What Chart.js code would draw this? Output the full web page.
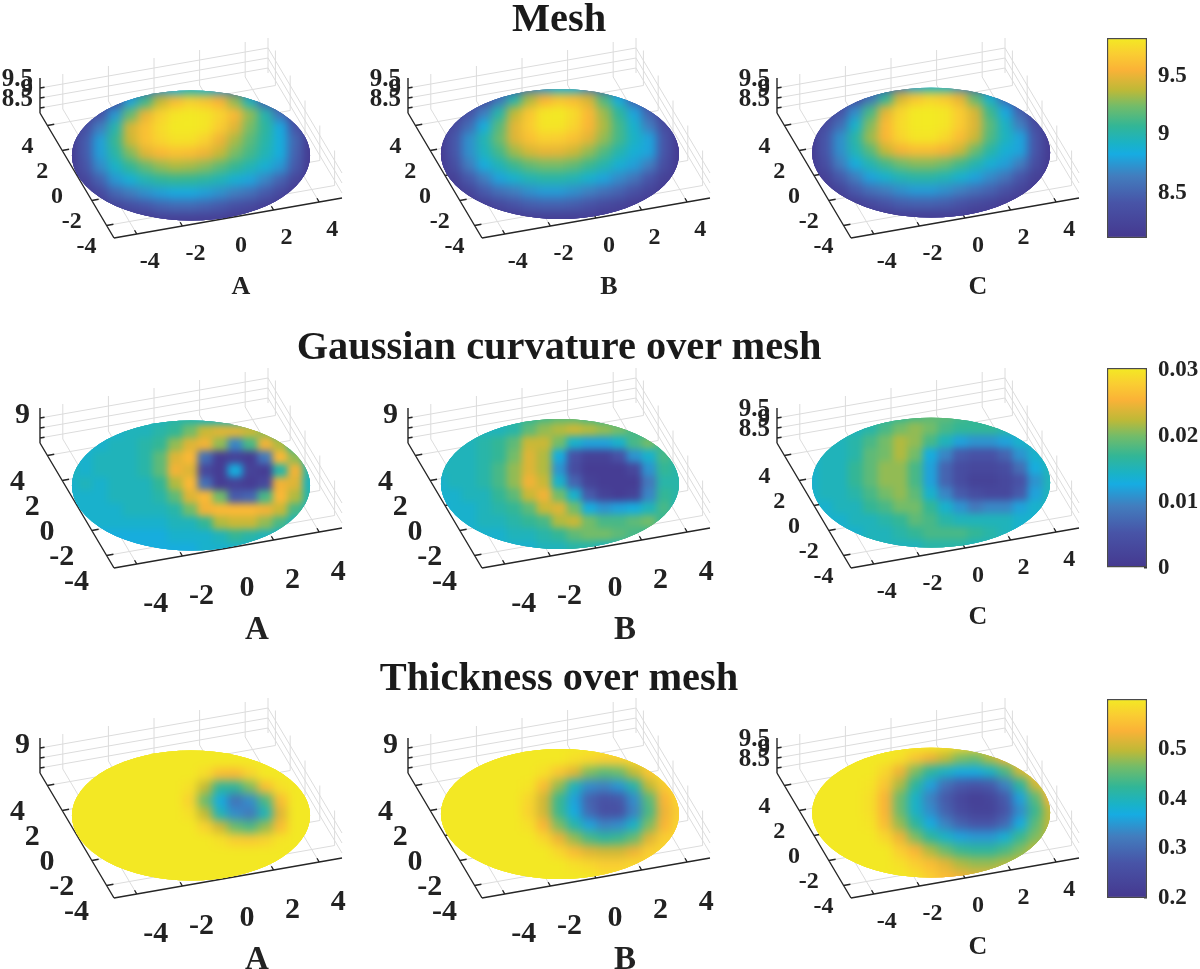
<!DOCTYPE html>
<html lang="en">
<head>
<meta charset="UTF-8">
<title>Mesh, Gaussian curvature and thickness</title>
<script src="https://cdn.jsdelivr.net/npm/chart.js"></script>
<style>
    html, body { margin: 0; background: #fff; width: 1200px; height: 969px; overflow: hidden; }
    canvas { position: absolute; }
    .title { position: absolute; left: 0; width: 1118px; text-align: center; font: bold 40.4px "Liberation Serif", serif; color: #1a1a1a; z-index: 5; }
</style>
</head>
<body>
<div class="title" style="top:-6px">Mesh</div>
<div class="title" style="top:322px">Gaussian curvature over mesh</div>
<div class="title" style="top:653px">Thickness over mesh</div>
<script>
// surface lattice, in disk units along the view plane
const latticeU = [-5, -4.375, -3.75, -3.125, -2.5, -1.875, -1.25, -0.625, 0, 0.625, 1.25, 1.875, 2.5, 3.125, 3.75, 4.375, 5];
const latticeV = [5, 4, 3, 2, 1, 0, -1, -2, -3, -4, -5];

// Mesh height, rows top to bottom as seen in the picture
const meshA = [
    [8.2,8.2,8.2,8.2,8.3,8.5,8.7,8.85,8.95,8.9,8.75,8.5,8.3,8.2,8.2,8.2,8.2],
    [8.2,8.2,8.2,8.3,8.8,9.1,9.4,9.6,9.7,9.65,9.55,9.3,8.95,8.5,8.2,8.2,8.2],
    [8.2,8.2,8.4,8.75,9.2,9.5,9.7,9.8,9.82,9.8,9.72,9.58,9.3,9.0,8.6,8.2,8.2],
    [8.2,8.35,8.65,9.0,9.45,9.62,9.75,9.82,9.82,9.8,9.68,9.48,9.25,9.05,8.82,8.42,8.2],
    [8.15,8.45,8.78,9.08,9.42,9.62,9.72,9.78,9.78,9.7,9.52,9.34,9.18,9.02,8.85,8.52,8.15],
    [8.15,8.45,8.78,9.02,9.27,9.47,9.57,9.62,9.6,9.52,9.4,9.25,9.12,8.98,8.85,8.5,8.15],
    [8.15,8.4,8.7,8.92,9.07,9.2,9.3,9.35,9.33,9.28,9.18,9.08,8.98,8.88,8.75,8.45,8.15],
    [8.15,8.28,8.5,8.75,8.87,8.98,9.05,9.08,9.07,9.03,8.97,8.88,8.8,8.68,8.5,8.27,8.15],
    [8.15,8.15,8.3,8.52,8.64,8.72,8.78,8.82,8.82,8.78,8.72,8.65,8.57,8.45,8.3,8.15,8.15],
    [8.15,8.15,8.15,8.25,8.35,8.42,8.5,8.54,8.54,8.5,8.44,8.36,8.3,8.2,8.15,8.15,8.15],
    [8.15,8.15,8.15,8.15,8.15,8.15,8.2,8.2,8.2,8.2,8.2,8.15,8.15,8.15,8.15,8.15,8.15]
];
const meshB = [
    [8.2,8.2,8.2,8.2,8.2,8.35,8.6,8.75,8.85,8.85,8.65,8.45,8.3,8.2,8.2,8.2,8.2],
    [8.2,8.2,8.2,8.3,8.6,9.0,9.35,9.55,9.65,9.6,9.45,9.15,8.85,8.5,8.2,8.2,8.2],
    [8.2,8.2,8.4,8.65,9.0,9.38,9.65,9.8,9.82,9.75,9.58,9.32,9.05,8.8,8.5,8.2,8.2],
    [8.2,8.33,8.55,8.85,9.17,9.48,9.68,9.8,9.8,9.72,9.57,9.35,9.12,8.9,8.65,8.33,8.2],
    [8.15,8.42,8.72,8.98,9.22,9.47,9.62,9.7,9.69,9.62,9.48,9.3,9.12,8.93,8.8,8.42,8.15],
    [8.15,8.42,8.72,8.95,9.12,9.32,9.44,9.5,9.49,9.42,9.3,9.15,9.0,8.88,8.8,8.42,8.15],
    [8.15,8.35,8.65,8.85,8.97,9.1,9.2,9.25,9.25,9.2,9.1,9.0,8.88,8.78,8.65,8.35,8.15],
    [8.15,8.22,8.45,8.65,8.8,8.9,8.98,9.02,9.02,8.98,8.9,8.8,8.7,8.6,8.42,8.22,8.15],
    [8.15,8.15,8.25,8.45,8.57,8.65,8.72,8.77,8.77,8.72,8.66,8.58,8.5,8.38,8.25,8.15,8.15],
    [8.15,8.15,8.15,8.2,8.3,8.4,8.47,8.5,8.5,8.47,8.4,8.32,8.25,8.18,8.15,8.15,8.15],
    [8.15,8.15,8.15,8.15,8.15,8.15,8.2,8.2,8.2,8.2,8.2,8.15,8.15,8.15,8.15,8.15,8.15]
];
const meshC = [
    [8.2,8.2,8.2,8.2,8.2,8.35,8.6,8.8,8.9,8.9,8.7,8.45,8.3,8.2,8.2,8.2,8.2],
    [8.2,8.2,8.2,8.3,8.6,9.05,9.45,9.65,9.72,9.67,9.5,9.2,8.9,8.55,8.2,8.2,8.2],
    [8.2,8.2,8.4,8.7,9.12,9.48,9.72,9.82,9.83,9.8,9.68,9.45,9.1,8.82,8.5,8.2,8.2],
    [8.2,8.33,8.55,8.9,9.27,9.58,9.75,9.82,9.83,9.8,9.68,9.47,9.18,8.93,8.65,8.33,8.2],
    [8.15,8.42,8.72,9.02,9.32,9.57,9.72,9.8,9.8,9.74,9.6,9.42,9.15,8.95,8.8,8.42,8.15],
    [8.15,8.42,8.72,8.98,9.17,9.4,9.54,9.6,9.6,9.54,9.42,9.22,9.02,8.88,8.8,8.42,8.15],
    [8.15,8.35,8.65,8.85,8.99,9.12,9.23,9.28,9.28,9.23,9.12,9.0,8.88,8.78,8.65,8.35,8.15],
    [8.15,8.22,8.45,8.65,8.8,8.9,8.98,9.03,9.03,8.98,8.9,8.8,8.7,8.6,8.42,8.22,8.15],
    [8.15,8.15,8.25,8.45,8.57,8.65,8.72,8.77,8.77,8.72,8.66,8.58,8.5,8.38,8.25,8.15,8.15],
    [8.15,8.15,8.15,8.2,8.3,8.4,8.47,8.5,8.5,8.47,8.4,8.32,8.25,8.18,8.15,8.15,8.15],
    [8.15,8.15,8.15,8.15,8.15,8.15,8.2,8.2,8.2,8.2,8.2,8.15,8.15,8.15,8.15,8.15,8.15]
];

// Gaussian curvature, in units of 0.001
const gaussA = [
    [14,14,14,14,14,15,15,16,16,15,15,14,14,14,14,14,14],
    [14,14,14,14,15,15,16,17,20,23,24,24,23,21,17,15,14],
    [14,14,14,15,15,16,17,21,24,25,21,10,18,25,22,16,14],
    [14,14,15,15,15,16,19,24,26,8,1,2,1,9,26,21,15],
    [15,14,15,15,15,16,19,25,24,3,1,13,2,1,16,25,16],
    [14,15,14,15,15,15,17,22,26,8,1,2,1,3,25,24,15],
    [14,14,14,15,15,15,16,19,24,26,20,6,7,18,26,22,16],
    [14,14,14,14,15,15,15,16,20,25,26,26,26,25,23,18,15],
    [14,14,14,14,14,14,14,15,15,17,22,23,23,21,18,15,14],
    [13,13,13,13,13,13,13,14,14,14,15,17,16,15,14,13,13],
    [13,13,13,13,13,13,13,13,13,14,14,14,14,13,13,13,13]
];
const gaussB = [
    [15,15,15,15,15,16,17,18,19,19,18,17,16,15,15,15,15],
    [15,15,15,15,15,16,19,21,22,23,22,21,20,18,16,15,15],
    [15,15,15,16,17,19,23,23,20,14,12,12,14,18,20,17,15],
    [14,15,15,16,17,20,24,22,13,5,2,2,5,11,14,18,16],
    [15,15,15,16,18,21,24,22,11,4,1,1,1,3,11,17,16],
    [14,15,15,16,18,21,25,23,14,7,2,1,1,1,9,16,16],
    [14,14,15,15,17,19,23,25,20,14,6,2,1,2,10,17,16],
    [13,14,14,15,16,17,19,23,24,20,13,11,12,13,15,18,15],
    [13,14,14,15,15,16,17,18,22,23,20,18,18,19,20,17,15],
    [14,14,14,14,14,15,15,16,17,19,20,20,19,18,17,15,15],
    [14,14,14,14,14,14,14,15,15,16,16,15,15,15,15,15,15]
];
const gaussC = [
    [15,15,15,15,16,16,17,18,19,19,18,17,16,15,15,15,15],
    [15,15,15,15,16,18,20,21,20,18,17,17,17,16,15,15,15],
    [15,15,15,16,18,20,22,21,18,15,12,11,11,12,14,15,15],
    [14,15,15,16,19,20,22,20,13,10,6,5,5,7,11,14,16],
    [14,15,15,17,19,21,21,18,12,7,4,3,3,4,8,13,15],
    [14,15,15,17,19,21,21,18,12,7,4,2,2,3,5,11,15],
    [14,15,15,16,18,20,21,19,14,10,6,4,3,3,6,12,15],
    [14,14,15,15,17,18,20,20,17,14,11,9,10,10,12,14,15],
    [14,14,14,15,15,16,17,19,18,16,15,15,15,15,14,14,14],
    [14,14,14,14,15,15,16,17,18,18,18,17,16,15,14,14,14],
    [15,15,15,15,15,15,15,15,16,16,16,15,15,15,15,15,15]
];

// Thickness
const thickA = [
    [.6,.6,.6,.6,.6,.6,.6,.6,.6,.6,.6,.6,.6,.6,.6,.6,.6],
    [.6,.6,.6,.6,.6,.6,.6,.6,.6,.6,.6,.6,.6,.6,.6,.6,.6],
    [.6,.6,.6,.6,.6,.6,.6,.6,.6,.585,.55,.545,.575,.6,.6,.6,.6],
    [.6,.6,.6,.6,.6,.6,.6,.6,.59,.5,.42,.42,.47,.55,.59,.6,.6],
    [.6,.6,.6,.6,.6,.6,.6,.6,.575,.46,.37,.31,.34,.44,.55,.6,.6],
    [.6,.6,.6,.6,.6,.6,.6,.6,.59,.5,.4,.34,.32,.4,.52,.6,.6],
    [.6,.6,.6,.6,.6,.6,.6,.6,.6,.575,.51,.46,.44,.48,.55,.6,.6],
    [.6,.6,.6,.6,.6,.6,.6,.6,.6,.6,.59,.57,.565,.575,.595,.6,.6],
    [.6,.6,.6,.6,.6,.6,.6,.6,.6,.6,.6,.6,.6,.6,.6,.6,.6],
    [.6,.6,.6,.6,.6,.6,.6,.6,.6,.6,.6,.6,.6,.6,.6,.6,.6],
    [.6,.6,.6,.6,.6,.6,.6,.6,.6,.6,.6,.6,.6,.6,.6,.6,.6]
];
const thickB = [
    [.6,.6,.6,.6,.6,.6,.6,.6,.6,.6,.6,.6,.6,.6,.6,.6,.6],
    [.6,.6,.6,.6,.6,.6,.6,.6,.6,.59,.58,.57,.57,.58,.59,.6,.6],
    [.6,.6,.6,.6,.6,.6,.6,.59,.56,.52,.47,.45,.46,.5,.56,.59,.6],
    [.6,.6,.6,.6,.6,.6,.595,.55,.48,.40,.34,.33,.35,.41,.5,.565,.59],
    [.6,.6,.6,.6,.6,.6,.58,.51,.43,.36,.29,.265,.275,.34,.45,.54,.58],
    [.6,.6,.6,.6,.6,.6,.575,.51,.43,.37,.3,.26,.26,.33,.44,.53,.57],
    [.6,.6,.6,.6,.6,.6,.59,.54,.47,.41,.36,.33,.34,.39,.47,.54,.58],
    [.6,.6,.6,.6,.6,.6,.6,.58,.53,.48,.44,.42,.43,.46,.52,.57,.58],
    [.6,.6,.6,.6,.6,.6,.6,.6,.58,.55,.52,.51,.51,.53,.57,.58,.58],
    [.6,.6,.6,.6,.6,.6,.6,.6,.6,.59,.58,.57,.57,.58,.58,.58,.58],
    [.6,.6,.6,.6,.6,.6,.6,.6,.6,.6,.6,.59,.59,.59,.59,.59,.59]
];
const thickC = [
    [.6,.6,.6,.6,.6,.6,.6,.6,.6,.59,.58,.57,.57,.57,.58,.6,.6],
    [.6,.6,.6,.6,.6,.6,.59,.56,.53,.50,.47,.46,.49,.53,.57,.58,.58],
    [.6,.6,.6,.6,.6,.58,.53,.47,.42,.39,.37,.37,.39,.44,.51,.56,.58],
    [.6,.6,.6,.6,.595,.56,.49,.42,.36,.31,.28,.27,.28,.33,.42,.51,.57],
    [.6,.6,.6,.6,.59,.54,.46,.39,.33,.28,.24,.22,.235,.28,.36,.45,.54],
    [.6,.6,.6,.6,.59,.54,.46,.39,.34,.29,.25,.23,.23,.27,.34,.43,.5],
    [.6,.6,.6,.6,.595,.55,.48,.42,.37,.33,.29,.27,.27,.30,.37,.45,.5],
    [.6,.6,.6,.6,.6,.58,.53,.47,.42,.39,.36,.35,.35,.38,.43,.47,.5],
    [.6,.6,.6,.6,.6,.6,.57,.54,.49,.46,.43,.42,.42,.44,.47,.5,.5],
    [.6,.6,.6,.6,.6,.6,.59,.57,.55,.52,.49,.48,.48,.49,.5,.5,.5],
    [.6,.6,.6,.6,.6,.6,.6,.59,.57,.55,.53,.52,.52,.52,.52,.52,.52]
];

// axis ticks
const axisTicks = [-4, -2, 0, 2, 4];
const zTicks = [8.5, 9, 9.5];
const zLabelsFull = ['8.5', '9', '9.5'];
const zLabelsOne = ['', '9', ''];
const panelLetters = ['A', 'B', 'C'];

// colour bars
const meshBarRange = [8.115, 9.825];
const meshBarTicks = [8.5, 9, 9.5];
const gaussBarRange = [0, 0.0303];
const gaussBarTicks = [0, 0.01, 0.02, 0.03];
const thickBarRange = [0.2, 0.602];
const thickBarTicks = [0.2, 0.3, 0.4, 0.5];

// colormap as printed in the figure
const cmapStops = [
    [0, 69, 56, 143], [.175, 72, 84, 167], [.31, 66, 125, 190], [.42, 22, 172, 226], [.47, 25, 178, 200],
    [.56, 50, 182, 150], [.66, 115, 188, 105], [.74, 190, 185, 55], [.84, 250, 178, 55], [.92, 250, 205, 50], [1, 243, 234, 35]
];
function cmap(t) {
    t = Math.max(0, Math.min(1, t));
    for (let i = 1; i < cmapStops.length; i++) {
        if (t <= cmapStops[i][0]) {
            const a = cmapStops[i - 1], b = cmapStops[i], f = (t - a[0]) / (b[0] - a[0]);
            return `rgb(${[1, 2, 3].map(k => Math.round(a[k] + (b[k] - a[k]) * f)).join(',')})`;
        }
    }
    return 'rgb(243,234,35)';
}

// view: one disk unit is this many pixels on the canvas
const unitU = 24, unitV = 13.1;
const panelW = 360, panelH = 290, centerX = 191, centerY = 125.5;
const diskR = 4.96;
const panelLeft = [0, 368, 737];
const panelTop = [30, 360, 690];
const zFloor = 8.25, zTop = 10;

// orthographic projection of the axes box onto the view plane
function project(x, y, z) {
    return {
        x: (22.8 * x - 7.4 * y) / unitU,
        y: (4 * x + 12.5 * y) / unitV + (z - zFloor) * 20 / unitV
    };
}
const gap = { x: NaN, y: NaN };
function seg(list, a, b) { list.push(project(...a), project(...b), gap); }

function boxLines() {
    const l = [];
    axisTicks.forEach(t => {
        seg(l, [t, -5, zFloor], [t, 5, zFloor]);
        seg(l, [-5, t, zFloor], [5, t, zFloor]);
        seg(l, [t, 5, zFloor], [t, 5, zTop]);
        seg(l, [5, t, zFloor], [5, t, zTop]);
    });
    zTicks.forEach(z => {
        seg(l, [-5, 5, z], [5, 5, z]);
        seg(l, [5, 5, z], [5, -5, z]);
    });
    seg(l, [5, 5, zFloor], [5, 5, zTop]);
    return l;
}
function axisLines() {
    const l = [];
    seg(l, [-5, -5, zFloor], [5, -5, zFloor]);
    seg(l, [-5, -5, zFloor], [-5, 5, zFloor]);
    seg(l, [-5, 5, zFloor], [-5, 5, zTop]);
    axisTicks.forEach(t => {
        seg(l, [t, -5, zFloor], [t, -4.7, zFloor]);
        seg(l, [-5, t, zFloor], [-4.7, t, zFloor]);
    });
    zTicks.forEach(z => seg(l, [-5, 5, z], [-4.8, 5, z]));
    return l;
}

// blur the surface cells, keep them inside the disk, then draw the axis text
const surfacePlugin = {
    id: 'surface',
    afterDatasetDraw(chart, args) {
        if (args.index !== 0) return;
        const off = document.createElement('canvas');
        off.width = chart.canvas.width;
        off.height = chart.canvas.height;
        const o = off.getContext('2d');
        o.filter = `blur(${chart.options.plugins.surface.blur}px)`;
        o.drawImage(chart.canvas, 0, 0);
        chart.$surface = off;
        chart.ctx.clearRect(0, 0, off.width, off.height);
    },
    afterDatasetsDraw(chart) {
        const { ctx, scales: { x, y } } = chart;
        const s = chart.options.plugins.surface;
        const cx = x.getPixelForValue(s.shiftU), cy = y.getPixelForValue(s.shiftV);
        ctx.save();
        ctx.beginPath();
        ctx.ellipse(cx, cy, x.getPixelForValue(s.shiftU + diskR) - cx, cy - y.getPixelForValue(s.shiftV + diskR), 0, 0, Math.PI * 2);
        ctx.clip();
        // drawn a few times so the soft outer edge of the blur does not wash out the rim
        for (let i = 0; i < 4; i++) ctx.drawImage(chart.$surface, 0, 0);
        ctx.restore();
    },
    afterDraw(chart) {
        const { ctx, scales: { x, y } } = chart;
        const s = chart.options.plugins.surface;
        const big = s.big;
        const at = p => [x.getPixelForValue(p.x), y.getPixelForValue(p.y)];
        ctx.save();
        ctx.fillStyle = '#222';
        ctx.textAlign = 'center';
        ctx.textBaseline = 'middle';
        ctx.font = `bold ${big ? 30 : 24}px "Liberation Serif"`;
        axisTicks.forEach(t => {
            let [px, py] = at(project(t, -5, zFloor));
            ctx.fillText(String(t), px + (big ? 19 : 13), py + (big ? 40 : 28));
            [px, py] = at(project(-5, t, zFloor));
            ctx.fillText(String(t), px + (big ? -30 : -20), py + (big ? 27 : 21));
        });
        ctx.textAlign = 'right';
        ctx.font = `bold ${big ? 30 : 25}px "Liberation Serif"`;
        zTicks.forEach((z, i) => {
            const [px, py] = at(project(-5, 5, z));
            ctx.fillText(s.zLabels[i], px - (big ? 10 : 7), py + (big ? -13 : -8));
        });
        ctx.textAlign = 'center';
        ctx.font = `bold ${big ? 33 : 26}px "Liberation Serif"`;
        const [lx, ly] = at(project(0, -5, zFloor));
        ctx.fillText(s.letter, lx + (big ? 29 : 13), ly + (big ? 82 : 69));
        ctx.restore();
    }
};

function addCanvas(left, top, w, h) {
    const c = document.createElement('canvas');
    c.width = w;
    c.height = h;
    c.style.left = left + 'px';
    c.style.top = top + 'px';
    document.body.appendChild(c);
    return c.getContext('2d');
}

function makePanel(col, row, rows, range, scaleBy, opts) {
    const points = [], colors = [];
    rows.forEach((r, i) => r.forEach((v, j) => {
        points.push({ x: latticeU[j] + opts.shiftU, y: latticeV[i] + opts.shiftV });
        colors.push(cmap((v * scaleBy - range[0]) / (range[1] - range[0])));
    }));
    new Chart(addCanvas(panelLeft[col], panelTop[row], panelW, panelH), {
        type: 'scatter',
        data: {
            datasets: [
                { data: points, order: 3, pointStyle: 'rect', pointRadius: 12, pointBorderWidth: 0, pointBackgroundColor: colors, clip: false },
                { data: boxLines(), order: 2, showLine: true, pointRadius: 0, borderColor: '#dcdcdc', borderWidth: 1, spanGaps: false, clip: false },
                { data: axisLines(), order: 1, showLine: true, pointRadius: 0, borderColor: '#262626', borderWidth: 1.4, spanGaps: false, clip: false }
            ]
        },
        options: {
            responsive: false,
            animation: false,
            layout: { padding: 0, autoPadding: false },
            scales: {
                x: { type: 'linear', display: false, min: -centerX / unitU, max: (panelW - centerX) / unitU },
                y: { type: 'linear', display: false, min: -(panelH - centerY) / unitV, max: centerY / unitV }
            },
            plugins: {
                legend: { display: false },
                tooltip: { enabled: false },
                surface: { blur: opts.blur, big: opts.big, zLabels: opts.zLabels, letter: panelLetters[col], shiftU: opts.shiftU, shiftV: opts.shiftV }
            }
        },
        plugins: [surfacePlugin]
    });
}

function makeBar(top, height, range, ticks, label) {
    new Chart(addCanvas(1100, top - 10, 100, height + 20), {
        type: 'bar',
        data: {
            labels: ['colour'],
            datasets: [{
                data: [range],
                barPercentage: 1,
                categoryPercentage: 1,
                borderColor: '#4a4a4a',
                borderWidth: 1.5,
                borderSkipped: false,
                backgroundColor(ctx) {
                    const a = ctx.chart.chartArea;
                    if (!a) return '#888';
                    const g = ctx.chart.ctx.createLinearGradient(0, a.bottom, 0, a.top);
                    cmapStops.forEach(s => g.addColorStop(s[0], cmap(s[0])));
                    return g;
                }
            }]
        },
        options: {
            responsive: false,
            animation: false,
            layout: { padding: { left: 7, top: 10, bottom: 10, right: 0 } },
            scales: {
                x: { display: false },
                y: {
                    position: 'right',
                    min: range[0],
                    max: range[1],
                    afterBuildTicks(s) { s.ticks = ticks.map(v => ({ value: v })); },
                    afterFit(s) { s.width = 53; s.paddingTop = 0; s.paddingBottom = 0; },
                    border: { display: false },
                    grid: { drawOnChartArea: false, tickLength: -3, color: '#333', lineWidth: 1.5 },
                    ticks: { padding: 14, color: '#222', font: { family: 'Liberation Serif', weight: 'bold', size: 23 }, callback: v => label(v) }
                }
            },
            plugins: { legend: { display: false }, tooltip: { enabled: false } }
        }
    });
}

const shiftsU = [0, 0.04, 0.13];
const shiftsV = [0, 0.12, 0.22];

[meshA, meshB, meshC].forEach((rows, c) => makePanel(c, 0, rows, meshBarRange, 1,
    { blur: 5, big: false, zLabels: zLabelsFull, shiftU: shiftsU[c], shiftV: shiftsV[c] }));
[gaussA, gaussB, gaussC].forEach((rows, c) => makePanel(c, 1, rows, gaussBarRange, 0.001,
    { blur: 3.5, big: c < 2, zLabels: c < 2 ? zLabelsOne : zLabelsFull, shiftU: shiftsU[c], shiftV: shiftsV[c] }));
[thickA, thickB, thickC].forEach((rows, c) => makePanel(c, 2, rows, thickBarRange, 1,
    { blur: 5, big: c < 2, zLabels: c < 2 ? zLabelsOne : zLabelsFull, shiftU: shiftsU[c], shiftV: shiftsV[c] }));

makeBar(38, 200, meshBarRange, meshBarTicks, v => String(v));
makeBar(368, 200, gaussBarRange, gaussBarTicks, v => String(v));
makeBar(699, 199, thickBarRange, thickBarTicks, v => String(v));
</script>
</body>
</html>
